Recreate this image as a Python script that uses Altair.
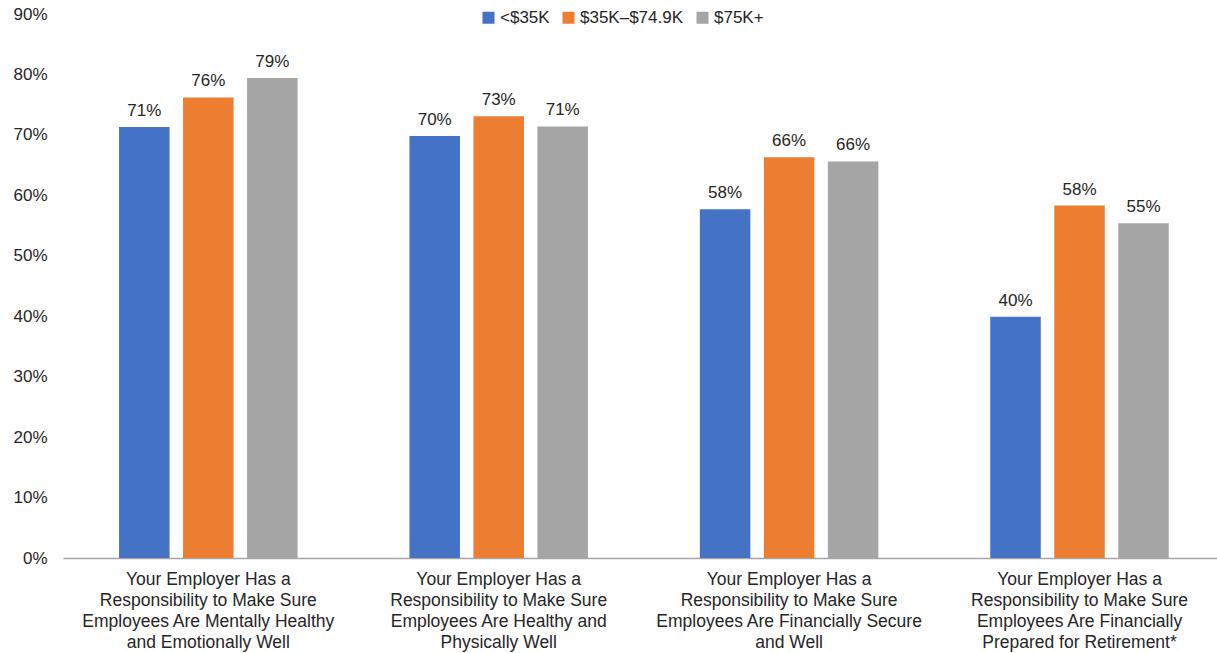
import altair as alt
import pandas as pd

category_lines = [
    ["Your Employer Has a", "Responsibility to Make Sure", "Employees Are Mentally Healthy", "and Emotionally Well"],
    ["Your Employer Has a", "Responsibility to Make Sure", "Employees Are Healthy and", "Physically Well"],
    ["Your Employer Has a", "Responsibility to Make Sure", "Employees Are Financially Secure", "and Well"],
    ["Your Employer Has a", "Responsibility to Make Sure", "Employees Are Financially", "Prepared for Retirement*"],
]
categories = ["|".join(lines) for lines in category_lines]

groups = ["<$35K", "$35K\u2013$74.9K", "$75K+"]
colors = ["#4472C4", "#ED7D31", "#A5A5A5"]

values_lt35 = [71.3, 69.8, 57.7, 39.9]
values_35_75 = [76.2, 73.1, 66.3, 58.3]
values_75plus = [79.4, 71.4, 65.6, 55.4]

y_ticks = [0, 10, 20, 30, 40, 50, 60, 70, 80, 90]

rows = []
for g, vals in zip(groups, [values_lt35, values_35_75, values_75plus]):
    for c, v in zip(categories, vals):
        rows.append({"category": c, "group": g, "value": v})
df = pd.DataFrame(rows)

FONT = "Liberation Sans"
TXT = "#262626"

base = alt.Chart(df).encode(
    x=alt.X("category:N", sort=categories,
            scale=alt.Scale(paddingInner=0.3388, paddingOuter=0.1563, align=0.543),
            axis=alt.Axis(title=None, labelAngle=0, ticks=False,
                          labelExpr="split(datum.label, '|')",
                          labelFontSize=17.5, labelFont=FONT, labelColor=TXT,
                          labelLineHeight=21, labelPadding=12, labelLimit=400,
                          labelBaseline="top",
                          domainColor="#A6A6A6", domainWidth=1.5)),
    xOffset=alt.XOffset("group:N", sort=groups,
                        scale=alt.Scale(paddingInner=0.211, paddingOuter=0.1055)),
    y=alt.Y("value:Q",
            scale=alt.Scale(domain=[0, 90], nice=False, zero=True),
            axis=alt.Axis(title=None, values=y_ticks, labelExpr="datum.value + '%'",
                          grid=False, domain=False, ticks=False,
                          labelFontSize=17, labelFont=FONT, labelColor=TXT,
                          labelPadding=16)),
)

bars = base.mark_bar().encode(
    color=alt.Color("group:N", sort=groups,
                    scale=alt.Scale(domain=groups, range=colors),
                    legend=alt.Legend(title=None, orient="none", direction="horizontal",
                                      legendX=417, legendY=-5,
                                      symbolType="square", symbolSize=144,
                                      symbolStrokeWidth=0, labelOffset=3,
                                      columnPadding=10,
                                      labelFontSize=17, labelFont=FONT, labelColor=TXT)),
)

labels = base.mark_text(baseline="alphabetic", dy=-11, fontSize=17, font=FONT, color=TXT).encode(
    text=alt.Text("label:N"),
).transform_calculate(label="format(datum.value, '.0f') + '%'")

chart = alt.layer(bars, labels).properties(
    width=1154, height=544,
    autosize=alt.AutoSizeParams(type="none"),
    padding={"left": 63, "top": 14, "right": 0, "bottom": 95},
    background="white",
).configure_view(stroke=None)

chart.save("out.html", embed_options={"renderer": "svg", "actions": False})
